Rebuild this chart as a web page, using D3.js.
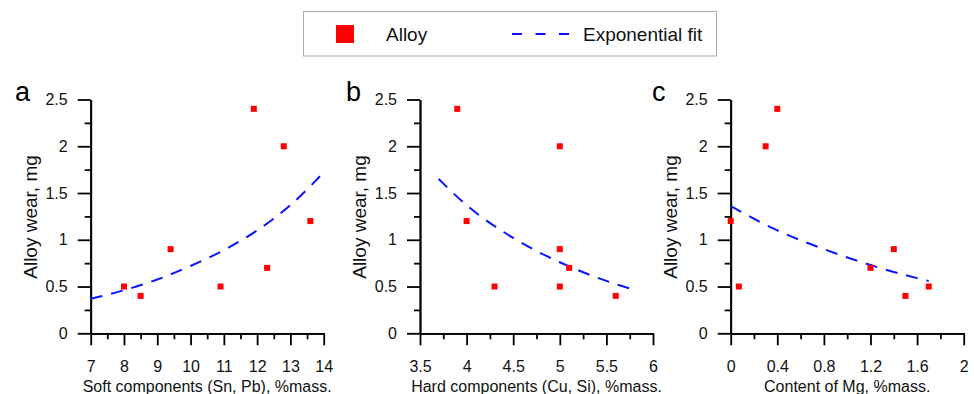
<!DOCTYPE html>
<html>
<head>
<meta charset="utf-8">
<script src="https://cdn.jsdelivr.net/npm/d3@7"></script>
<style>
    html, body { margin: 0; padding: 0; background: #fff; }
    #container { width: 974px; height: 394px; }
    svg { font-family: "Liberation Sans", Arial, sans-serif; }
    .axis path, .axis line { stroke: #000; stroke-width: 1.8; }
    .axis text { font-size: 16px; fill: #111; font-family: "Liberation Sans", Arial, sans-serif; }
</style>
</head>
<body>
<div id="container"></div>
<script>
// wear values (mg) and compositions
const wearTicks = [0, 0.5, 1, 1.5, 2, 2.5];

const softX = [8, 8.5, 9.4, 10.9, 11.9, 12.3, 12.8, 13.6];
const softWear = [0.5, 0.4, 0.9, 0.5, 2.4, 0.7, 2.0, 1.2];
const softFitX = [7, 8, 9, 10, 11, 12, 13, 14];
const softFitY = [0.37, 0.46, 0.575, 0.72, 0.89, 1.10, 1.37, 1.72];
const softTicks = [7, 8, 9, 10, 11, 12, 13, 14];

const hardX = [3.9, 4.0, 4.3, 5.0, 5.0, 5.0, 5.1, 5.6];
const hardWear = [2.4, 1.2, 0.5, 2.0, 0.9, 0.5, 0.7, 0.4];
const hardFitX = [3.7, 4.0, 4.5, 5.0, 5.5, 5.75];
const hardFitY = [1.65, 1.37, 1.02, 0.76, 0.56, 0.48];
const hardTicks = [3.5, 4, 4.5, 5, 5.5, 6];

const mgX = [0, 0.07, 0.3, 0.4, 1.2, 1.4, 1.5, 1.7];
const mgWear = [1.2, 0.5, 2.0, 2.4, 0.7, 0.9, 0.4, 0.5];
const mgFitX = [0, 0.4, 0.8, 1.2, 1.6, 1.7];
const mgFitY = [1.36, 1.10, 0.90, 0.73, 0.59, 0.56];
const mgTicks = [0, 0.4, 0.8, 1.2, 1.6, 2];

const panelLabels = ["a", "b", "c"];
const xTitles = ["Soft components (Sn, Pb), %mass.", "Hard components (Cu, Si), %mass.", "Content of Mg, %mass."];
const legendLabels = ["Alloy", "Exponential fit"];

const RED = "#ff0000";
const BLUE = "#0a14ff";

const svg = d3.select("#container").append("svg")
    .attr("width", 974).attr("height", 394);

function minorTicks(ticks) {
    const out = [];
    for (let i = 0; i < ticks.length - 1; i++) out.push((ticks[i] + ticks[i + 1]) / 2);
    return out;
}

function drawPanel(opt) {
    const x = d3.scaleLinear().domain([opt.ticks[0], opt.ticks[opt.ticks.length - 1]]).range([opt.left, opt.left + 233]);
    const y = d3.scaleLinear().domain([0, 2.5]).range([333.3, 99.5]);
    const g = svg.append("g");

    // minor ticks first, majors on top
    g.append("g").attr("class", "axis").attr("transform", `translate(0,333.3)`)
        .call(d3.axisBottom(x).tickValues(minorTicks(opt.ticks)).tickSize(6).tickSizeOuter(0).tickFormat(""));
    g.append("g").attr("class", "axis").attr("transform", `translate(0,333.3)`)
        .call(d3.axisBottom(x).tickValues(opt.ticks).tickSize(12).tickSizeOuter(0).tickPadding(15).tickFormat(d3.format("")));
    g.append("g").attr("class", "axis").attr("transform", `translate(${opt.left},0)`)
        .call(d3.axisLeft(y).tickValues(minorTicks(wearTicks)).tickSize(6).tickSizeOuter(0).tickFormat(""));
    g.append("g").attr("class", "axis").attr("transform", `translate(${opt.left},0)`)
        .call(d3.axisLeft(y).tickValues(wearTicks).tickSize(13).tickSizeOuter(0).tickPadding(10).tickFormat(d3.format("")));

    // fit curve
    const fit = opt.fitX.map((d, i) => [d, opt.fitY[i]]);
    g.append("path").datum(fit)
        .attr("d", d3.line().x(d => x(d[0])).y(d => y(d[1])).curve(d3.curveMonotoneX))
        .attr("fill", "none").attr("stroke", BLUE).attr("stroke-width", 2)
        .attr("stroke-dasharray", "12,9");

    // data points
    const pts = opt.xs.map((d, i) => [d, opt.ys[i]]);
    g.selectAll("rect.pt").data(pts).enter().append("rect")
        .attr("class", "pt")
        .attr("x", d => x(d[0]) - 3).attr("y", d => y(d[1]) - 3)
        .attr("width", 6).attr("height", 6).attr("fill", RED);

    g.append("text").attr("x", opt.left - 60.5).attr("y", 217)
        .attr("transform", `rotate(-90,${opt.left - 60.5},217)`)
        .attr("text-anchor", "middle").attr("dy", "0.35em")
        .attr("font-size", 19).attr("fill", "#111").text("Alloy wear, mg");

    g.append("text").attr("x", opt.left + 116.5).attr("y", 392)
        .attr("text-anchor", "middle").attr("font-size", 16).attr("fill", "#111").text(opt.title);

    g.append("text").attr("x", opt.labelX).attr("y", 100.5)
        .attr("font-size", 27).attr("fill", "#000").text(opt.label);
}

drawPanel({ left: 90.7, ticks: softTicks, xs: softX, ys: softWear, fitX: softFitX, fitY: softFitY, title: xTitles[0], label: panelLabels[0], labelX: 15 });
drawPanel({ left: 420, ticks: hardTicks, xs: hardX, ys: hardWear, fitX: hardFitX, fitY: hardFitY, title: xTitles[1], label: panelLabels[1], labelX: 346 });
drawPanel({ left: 730.7, ticks: mgTicks, xs: mgX, ys: mgWear, fitX: mgFitX, fitY: mgFitY, title: xTitles[2], label: panelLabels[2], labelX: 652 });

// legend
const legend = svg.append("g");
legend.append("rect").attr("x", 303.5).attr("y", 11.5).attr("width", 413).attr("height", 44.5)
    .attr("fill", "#fff").attr("stroke", "#aaa").attr("stroke-width", 1);
legend.append("rect").attr("x", 336).attr("y", 25).attr("width", 18).attr("height", 18).attr("fill", RED);
legend.append("text").attr("x", 386).attr("y", 41).attr("font-size", 19).attr("fill", "#111").text(legendLabels[0]);
legend.append("line").attr("x1", 512).attr("x2", 569).attr("y1", 34).attr("y2", 34)
    .attr("stroke", BLUE).attr("stroke-width", 2).attr("stroke-dasharray", "10,13.5");
legend.append("text").attr("x", 583).attr("y", 41).attr("font-size", 19).attr("fill", "#111").text(legendLabels[1]);
</script>
</body>
</html>
